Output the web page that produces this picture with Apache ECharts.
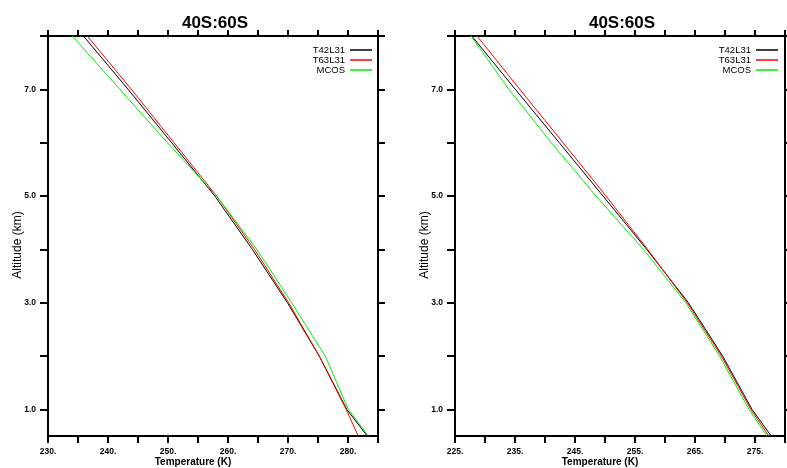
<!DOCTYPE html>
<html>
<head>
<meta charset="utf-8">
<script src="https://cdn.jsdelivr.net/npm/echarts@6/dist/echarts.min.js"></script>
<style>
html,body{margin:0;padding:0;background:#fff;}
#chart{width:787px;height:468px;}
</style>
</head>
<body>
<div id="chart"></div>
<script>
// ---- data ----
const titleText = '40S:60S';
const seriesNames = ['T42L31', 'T63L31', 'MCOS'];
const altitudes = [8.0, 7.0, 6.0, 5.0, 4.0, 3.0, 2.0, 1.0, 0.5];
// left panel (K)
const leftT42 = [235.9, 243.35, 250.6, 257.8, 264.05, 269.9, 275.2, 279.8, 283.2];
const leftT63 = [236.55, 243.9, 251.0, 258.1, 264.4, 270.1, 275.2, 279.7, 281.7];
const leftMCOS = [234.05, 241.98, 249.9, 258.1, 264.8, 270.6, 276.2, 280.05, 283.4];
// right panel (K)
const rightT42 = [227.8, 235.05, 242.37, 249.67, 256.95, 263.9, 269.6, 274.5, 277.7];
const rightT63 = [228.67, 235.8, 243.0, 250.17, 257.1, 263.7, 269.4, 274.3, 277.3];
const rightMCOS = [227.67, 233.98, 241.05, 248.5, 256.4, 263.45, 269.1, 274.0, 277.0];
// axes
const leftXRange = [230, 285];
const rightXRange = [225, 280];
const yRange = [0.5, 8.0];
const leftXTicks = [230, 235, 240, 245, 250, 255, 260, 265, 270, 275, 280, 285];
const leftXLabels = [230, 240, 250, 260, 270, 280];
const rightXTicks = [225, 230, 235, 240, 245, 250, 255, 260, 265, 270, 275, 280];
const rightXLabels = [225, 235, 245, 255, 265, 275];
const yTicks = [1, 2, 3, 4, 5, 6, 7, 8];
const yLabels = [1, 3, 5, 7];
const xName = 'Temperature (K)';
const yName = 'Altitude (km)';
const colors = ['#000000', '#ff0000', '#00ee00'];

function pairs(temps) { return temps.map((t, i) => [t, altitudes[i]]); }

const FONT = 'Liberation Sans, Arial, Helvetica, sans-serif';
const axisLine = { show: true, lineStyle: { color: '#000', width: 2 } };

function xAxes(range, ticks, labels, gi) {
  return [
    {
      type: 'value', gridIndex: gi, position: 'bottom', min: range[0], max: range[1],
      axisLine: axisLine,
      axisTick: { show: true, inside: false, length: 7, customValues: ticks, lineStyle: { color: '#000', width: 2 } },
      axisLabel: { show: true, customValues: labels, formatter: v => v + '.', fontFamily: FONT, fontWeight: 'bold', fontSize: 8.5, color: '#000', margin: 11 },
      splitLine: { show: false },
      name: xName, nameLocation: 'middle', nameGap: 21, nameMoveOverlap: false,
      nameTextStyle: { fontFamily: FONT, fontWeight: 'bold', fontSize: 10, color: '#000', padding: [0, 40, 0, 0] }
    },
    {
      type: 'value', gridIndex: gi, position: 'top', min: range[0], max: range[1],
      axisLine: axisLine,
      axisTick: { show: true, inside: false, length: 6, customValues: ticks, lineStyle: { color: '#000', width: 2 } },
      axisLabel: { show: false }, splitLine: { show: false }
    }
  ];
}
function yAxes(gi) {
  return [
    {
      type: 'value', gridIndex: gi, position: 'left', min: yRange[0], max: yRange[1],
      axisLine: axisLine,
      axisTick: { show: true, inside: false, length: 8, customValues: yTicks, lineStyle: { color: '#000', width: 2 } },
      axisLabel: { show: true, customValues: yLabels, formatter: v => v.toFixed(1), fontFamily: FONT, fontWeight: 'bold', fontSize: 8.5, color: '#000', margin: 12 },
      splitLine: { show: false },
      name: yName, nameLocation: 'middle', nameGap: 24, nameRotate: 90, nameMoveOverlap: false,
      nameTextStyle: { fontFamily: FONT, fontSize: 12, color: '#000', padding: [0, 18, 0, 0] }
    },
    {
      type: 'value', gridIndex: gi, position: 'right', min: yRange[0], max: yRange[1],
      axisLine: axisLine,
      axisTick: { show: true, inside: false, length: 7, customValues: yTicks, lineStyle: { color: '#000', width: 2 } },
      axisLabel: { show: false }, splitLine: { show: false }
    }
  ];
}

function lineSeries(name, temps, xi, yi, c) {
  return {
    name: name, type: 'line', xAxisIndex: xi, yAxisIndex: yi,
    data: pairs(temps), showSymbol: false, symbol: 'none', smooth: false,
    lineStyle: { color: c, width: 1 }, itemStyle: { color: c },
    animation: false, clip: true
  };
}

function legend(rightPx) {
  return {
    data: seriesNames, orient: 'vertical', align: 'right', right: rightPx, top: 40,
    icon: 'rect', itemWidth: 22, itemHeight: 1.5, itemGap: 0,
    textStyle: { fontFamily: FONT, fontSize: 9.5, color: '#000', lineHeight: 9.5, padding: [0, 0, 0, 0] },
    selectedMode: false
  };
}

const chart = echarts.init(document.getElementById('chart'), null, { renderer: 'canvas' });
chart.setOption({
  animation: false,
  backgroundColor: '#fff',
  color: colors,
  title: [
    { text: titleText, left: 210, top: 10, textAlign: 'center', textStyle: { fontFamily: FONT, fontWeight: 'bold', fontSize: 17, color: '#000' } },
    { text: titleText, left: 617, top: 10, textAlign: 'center', textStyle: { fontFamily: FONT, fontWeight: 'bold', fontSize: 17, color: '#000' } }
  ],
  grid: [
    { left: 48, top: 36, width: 330, height: 400, containLabel: false, outerBoundsMode: 'none' },
    { left: 455, top: 36, width: 330, height: 400, containLabel: false, outerBoundsMode: 'none' }
  ],
  xAxis: xAxes(leftXRange, leftXTicks, leftXLabels, 0).concat(xAxes(rightXRange, rightXTicks, rightXLabels, 1)),
  yAxis: yAxes(0).concat(yAxes(1)),
  legend: [legend(410), legend(4)],
  series: [
    lineSeries(seriesNames[0], leftT42, 0, 0, colors[0]),
    lineSeries(seriesNames[1], leftT63, 0, 0, colors[1]),
    lineSeries(seriesNames[2], leftMCOS, 0, 0, colors[2]),
    lineSeries(seriesNames[0], rightT42, 2, 2, colors[0]),
    lineSeries(seriesNames[1], rightT63, 2, 2, colors[1]),
    lineSeries(seriesNames[2], rightMCOS, 2, 2, colors[2])
  ]
});
</script>
</body>
</html>
